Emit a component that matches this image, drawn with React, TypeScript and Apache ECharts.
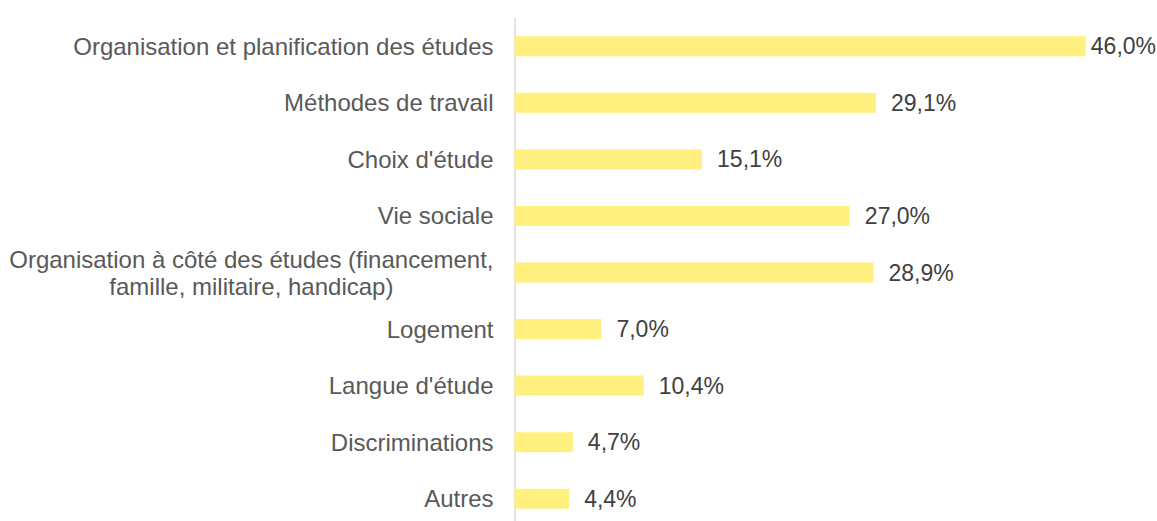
import React, { useEffect, useRef } from "react";
import * as echarts from "echarts";

const categories: string[] = [
  "Organisation et planification des études",
  "Méthodes de travail",
  "Choix d'étude",
  "Vie sociale",
  "Organisation à côté des études (financement,\nfamille, militaire, handicap)",
  "Logement",
  "Langue d'étude",
  "Discriminations",
  "Autres",
];
const values: number[] = [46.0, 29.1, 15.1, 27.0, 28.9, 7.0, 10.4, 4.7, 4.4];

export default function App() {
  const ref = useRef<HTMLDivElement>(null);
  useEffect(() => {
    if (!ref.current) return;
    const chart = echarts.init(ref.current, null, { renderer: "svg" });
    const font = "'Liberation Sans', Arial, sans-serif";
    chart.setOption({
      animation: false,
      grid: { left: 514.5, right: 21.5, top: 18, bottom: 0, containLabel: false },
      xAxis: {
        type: "value",
        min: 0,
        max: 50,
        show: false,
      },
      yAxis: {
        type: "category",
        inverse: true,
        data: categories,
        axisLine: { show: true, lineStyle: { color: "#d9d9d9", width: 1.5 } },
        axisTick: { show: false },
        axisLabel: {
          color: "#595959",
          fontFamily: font,
          fontSize: 24,
          margin: 21,
          align: "right",
          lineHeight: 27,
          formatter: (v: string) =>
            v.includes("\n") ? v.split("\n").map((l) => `{c|${l}}`).join("\n") : v,
          rich: {
            c: {
              align: "center",
              color: "#595959",
              fontFamily: font,
              fontSize: 24,
              lineHeight: 27,
            },
          },
        },
      },
      series: [
        {
          type: "bar",
          data: values.map((v, i) => ({
            value: v,
            label: i === 0 ? { distance: 5 } : undefined,
          })),
          barWidth: 20,
          itemStyle: { color: "#FFF07F" },
          label: {
            show: true,
            position: "right",
            distance: 15,
            color: "#404040",
            fontFamily: font,
            fontSize: 23,
            formatter: (p: any) => p.value.toFixed(1).replace(".", ",") + "%",
          },
        },
      ],
    });
    return () => chart.dispose();
  }, []);
  return (
    <div style={{ position: "absolute", left: 0, top: 0, width: 1157, height: 521, overflow: "hidden", background: "#fff" }}>
      <div ref={ref} style={{ width: 1157, height: 527.4 }} />
    </div>
  );
}
